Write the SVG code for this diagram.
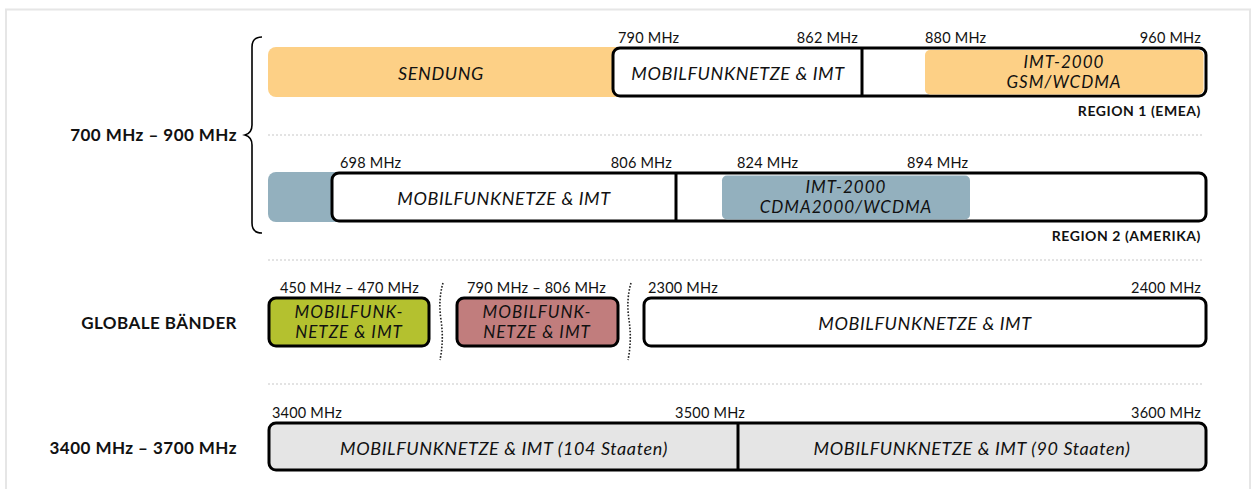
<svg xmlns="http://www.w3.org/2000/svg" width="1254" height="489" viewBox="0 0 1254 489">
<defs>
<style>
text{font-family:Lato,"Open Sans","Liberation Sans",sans-serif;fill:#111}
.f{font-size:14.5px;letter-spacing:0.2px}
.b{font-size:17px;font-weight:bold;text-anchor:end;letter-spacing:0.45px}
.r{font-size:14px;font-weight:bold;text-anchor:end;letter-spacing:0.55px}
.i{font-size:18px;font-style:italic;text-anchor:middle;letter-spacing:0.6px}
.t{font-size:17px;font-style:italic;text-anchor:middle;letter-spacing:1px}
.e{text-anchor:end}
.box{stroke:#000;stroke-width:3}
.sep{stroke:#c8c8c8;stroke-width:1.2;stroke-dasharray:2 2;fill:none}
.wav{stroke:#222;stroke-width:1.6;stroke-dasharray:1.6 1.6;fill:none}
.div{stroke:#000;stroke-width:3}
</style>
</defs>
<rect x="6" y="9.5" width="1244" height="500" fill="#fff" stroke="#e6e6e6" stroke-width="2"/>

<g id="labels">
<text class="b" x="237" y="141">700 MHz – 900 MHz</text>
<text class="b" x="237" y="329">GLOBALE BÄNDER</text>
<text class="b" x="237" y="454">3400 MHz – 3700 MHz</text>
<path d="M262,37 Q252,37 252,47 L252,125 Q252,133 245,135 Q252,137 252,145 L252,223 Q252,233 262,233" fill="none" stroke="#000" stroke-width="1.6"/>
</g>

<g id="separators">
<line class="sep" x1="268" y1="135" x2="1202" y2="135"/>
<line class="sep" x1="268" y1="260" x2="1202" y2="260"/>
<line class="sep" x1="268" y1="384" x2="1202" y2="384"/>
</g>

<g id="region1">
<rect x="268" y="47" width="360" height="50" rx="8" fill="#fdd086"/>
<rect class="box" x="613" y="48" width="593" height="48" rx="7" fill="#fff"/>
<rect x="925" y="50" width="278.5" height="44.5" rx="5" fill="#fdd086"/>
<line class="div" x1="862" y1="48" x2="862" y2="96"/>
<text class="i" x="441" y="80">SENDUNG</text>
<text class="i" x="738" y="80">MOBILFUNKNETZE &amp; IMT</text>
<text class="t" x="1064" y="67.5">IMT-2000</text>
<text class="t" x="1064" y="88.2">GSM/WCDMA</text>
<text class="f" x="618" y="42.5">790 MHz</text>
<text class="f e" x="858" y="42.5">862 MHz</text>
<text class="f" x="925" y="42.5">880 MHz</text>
<text class="f e" x="1201" y="42.5">960 MHz</text>
<text class="r" x="1201" y="116">REGION 1 (EMEA)</text>
</g>

<g id="region2">
<rect x="268" y="172" width="80" height="50" rx="8" fill="#93b0be"/>
<rect class="box" x="332" y="173" width="874" height="48" rx="7" fill="#fff"/>
<rect x="722" y="175.5" width="248" height="44" rx="5" fill="#93b0be"/>
<line class="div" x1="676" y1="173" x2="676" y2="221"/>
<text class="i" x="504" y="205">MOBILFUNKNETZE &amp; IMT</text>
<text class="t" x="846" y="192.5">IMT-2000</text>
<text class="t" x="846" y="213.2">CDMA2000/WCDMA</text>
<text class="f" x="340" y="167.5">698 MHz</text>
<text class="f e" x="672" y="167.5">806 MHz</text>
<text class="f" x="737" y="167.5">824 MHz</text>
<text class="f" x="907" y="167.5">894 MHz</text>
<text class="r" x="1201" y="241">REGION 2 (AMERIKA)</text>
</g>

<g id="global">
<rect class="box" x="269" y="298" width="160" height="48" rx="7" fill="#b4c12f"/>
<rect class="box" x="457" y="298" width="161" height="48" rx="7" fill="#c17d7d"/>
<rect class="box" x="644" y="298" width="562" height="48" rx="7" fill="#fff"/>
<text class="t" x="349" y="317.5">MOBILFUNK-</text>
<text class="t" x="349" y="338.2">NETZE &amp; IMT</text>
<text class="t" x="537" y="317.5">MOBILFUNK-</text>
<text class="t" x="537" y="338.2">NETZE &amp; IMT</text>
<text class="i" x="925" y="330">MOBILFUNKNETZE &amp; IMT</text>
<text class="f" x="280" y="292.5">450 MHz – 470 MHz</text>
<text class="f" x="467" y="292.5">790 MHz – 806 MHz</text>
<text class="f" x="648" y="292.5">2300 MHz</text>
<text class="f e" x="1201" y="292.5">2400 MHz</text>
<path class="wav" d="M443,283 Q438,300 441,320 Q444,340 440,360"/>
<path class="wav" d="M631,283 Q626,300 629,320 Q632,340 628,360"/>
</g>

<g id="band3400">
<rect class="box" x="269" y="423" width="937" height="47" rx="7" fill="#e5e5e5"/>
<line class="div" x1="738" y1="423" x2="738" y2="470"/>
<text class="i" x="504" y="455">MOBILFUNKNETZE &amp; IMT (104 Staaten)</text>
<text class="i" x="972" y="455">MOBILFUNKNETZE &amp; IMT (90 Staaten)</text>
<text class="f" x="272" y="417.5">3400 MHz</text>
<text class="f e" x="745" y="417.5">3500 MHz</text>
<text class="f e" x="1201" y="417.5">3600 MHz</text>
</g>
</svg>
